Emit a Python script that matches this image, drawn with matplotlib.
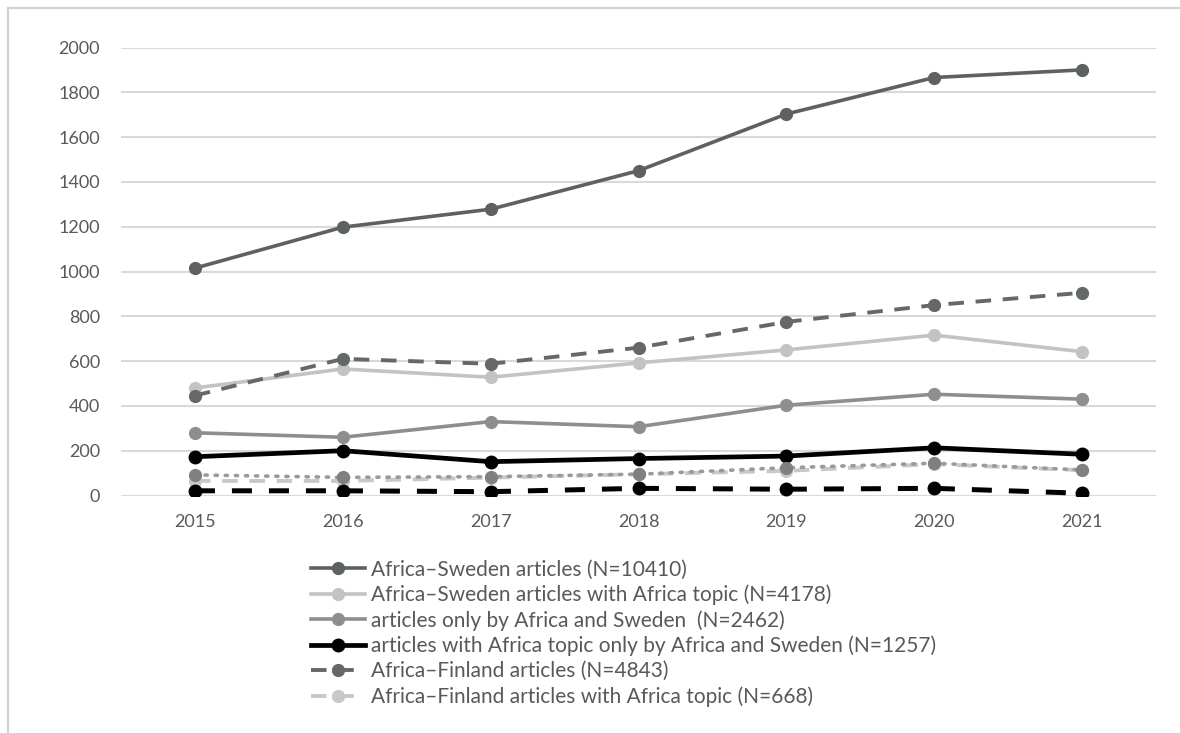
import numpy as np
import matplotlib.pyplot as plt
from matplotlib.patches import Rectangle

# Данные
years = [2015, 2016, 2017, 2018, 2019, 2020, 2021]

africa_sweden = [1015, 1198, 1278, 1450, 1703, 1866, 1900]
africa_sweden_topic = [480, 565, 528, 592, 650, 716, 642]
only_africa_sweden = [280, 260, 330, 307, 403, 452, 430]
topic_only_africa_sweden = [173, 200, 151, 165, 176, 213, 184]
africa_finland = [446, 610, 588, 660, 775, 850, 905]
africa_finland_topic = [65, 65, 80, 95, 110, 140, 113]
only_africa_finland = [92, 81, 84, 95, 124, 144, 114]
topic_only_africa_finland = [21, 21, 17, 32, 28, 32, 10]

labels = [
    'Africa–Sweden articles (N=10410)',
    'Africa–Sweden articles with Africa topic (N=4178)',
    'articles only by Africa and Sweden  (N=2462)',
    'articles with Africa topic only by Africa and Sweden (N=1257)',
    'Africa–Finland articles (N=4843)',
    'Africa–Finland articles with Africa topic (N=668)',
]

text_color = '#595959'
plt.rcParams['font.family'] = ['Lato', 'DejaVu Sans']

fig = plt.figure(figsize=(11.8, 7.33), dpi=100)
ax = fig.add_axes([121 / 1180, 1 - 495.5 / 733, (1156 - 121) / 1180, (495.5 - 47.5) / 733])

# рамка вокруг всей картинки
fig.patches.append(Rectangle((8 / 1180, -0.1), 1.2, 1.1 - 8 / 733, transform=fig.transFigure,
                             fill=False, edgecolor='#d0d0d0', linewidth=1.5))

l1, = ax.plot(years, africa_sweden, color='#5e6162', lw=2.6, marker='o', ms=8.5, zorder=3)
l2, = ax.plot(years, africa_sweden_topic, color='#c3c3c3', lw=2.6, marker='o', ms=8.5, zorder=3)
l3, = ax.plot(years, only_africa_sweden, color='#8e8e8e', lw=2.6, marker='o', ms=8.5, zorder=3)
l4, = ax.plot(years, topic_only_africa_sweden, color='black', lw=3.4, marker='o', ms=9, zorder=3)
l5, = ax.plot(years, africa_finland, color='#646869', lw=2.8, ls=(0, (4, 3)), marker='o', ms=8.5, zorder=3)
l6, = ax.plot(years, africa_finland_topic, color='#c8c8c8', lw=2.8, ls=(0, (4, 3)), marker='o', ms=8.5, zorder=3)
l7, = ax.plot(years, only_africa_finland, color='#9a9a9a', lw=2.6, ls=(0, (0.6, 2.2)),
              dash_capstyle='round', marker='o', ms=8.5, mfc='#808080', mec='#808080', zorder=3)
l8, = ax.plot(years, topic_only_africa_finland, color='black', lw=3.6, ls=(0, (4, 3.4)), marker='o', ms=9, zorder=3)

ax.set_xlim(2014.5, 2021.5)
ax.set_ylim(0, 2000)
ax.set_yticks(np.arange(0, 2001, 200))
ax.set_xticks(years)
ax.yaxis.grid(True, color='#d9d9d9', lw=1.5)
ax.set_axisbelow(True)
for s in ax.spines.values():
    s.set_visible(False)
ax.tick_params(axis='both', length=0, labelsize=13, labelcolor=text_color)
ax.tick_params(axis='y', pad=15)
ax.tick_params(axis='x', pad=13)

fig.legend([l1, l2, l3, l4, l5, l6], labels, loc='upper left',
           bbox_to_anchor=(301 / 1180, 1 - 549 / 733), frameon=False, fontsize=15,
           labelcolor=text_color, handlelength=2.55, handletextpad=0.3, labelspacing=0.24,
           borderpad=0, numpoints=1)

fig.savefig('out.png', dpi=100)
